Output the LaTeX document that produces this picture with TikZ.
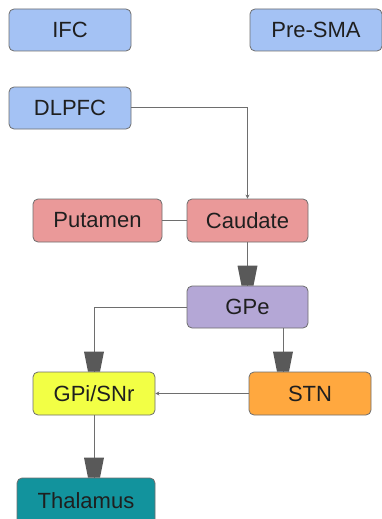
\documentclass[tikz,border=0pt]{standalone}
\usepackage{fontspec}
\setmainfont{Liberation Sans}
\usetikzlibrary{arrows.meta}
\definecolor{cortexblue}{HTML}{A4C2F4}
\definecolor{striatumred}{HTML}{EA9999}
\definecolor{gpepurple}{HTML}{B4A7D6}
\definecolor{gpiyellow}{HTML}{F2FF45}
\definecolor{stnorange}{HTML}{FFA83F}
\definecolor{thalteal}{HTML}{12939D}
\definecolor{edgegray}{HTML}{6E6E6E}
\definecolor{headgray}{HTML}{595959}
\tikzset{
  x=1pt, y=1pt,
  region/.style={draw=edgegray, line width=0.8pt, rounded corners=5pt,
    minimum height=42pt, inner sep=0pt, text=black!88,
    font=\fontsize{22}{24}\selectfont},
  link/.style={draw=edgegray, line width=0.8pt},
  thinarrow/.style={link, -{Stealth[length=4pt,width=4pt]}},
  trap/.pic={\fill[headgray] (-10,20) -- (10,20) -- (6,0) -- (-6,0) -- cycle;}
}
\begin{document}
\begin{tikzpicture}
\useasboundingbox (0,0) rectangle (382,-519);
\begin{scope}
\clip (0,0) rectangle (382,-519);
% cortical areas
\node[region, fill=cortexblue, minimum width=122pt] (ifc) at (70,-30) {IFC};
\node[region, fill=cortexblue, minimum width=132pt] (presma) at (316,-30) {Pre-SMA};
\node[region, fill=cortexblue, minimum width=122pt] (dlpfc) at (70,-108) {DLPFC};
% striatum
\node[region, fill=striatumred, minimum width=129pt, minimum height=43pt] (putamen) at (97.5,-220.5) {Putamen};
\node[region, fill=striatumred, minimum width=121pt, minimum height=43pt] (caudate) at (247.5,-220.5) {Caudate};
% pallidum, STN, thalamus
\node[region, fill=gpepurple, minimum width=121pt] (gpe) at (247.5,-307) {GPe};
\node[region, fill=gpiyellow, minimum width=122pt, minimum height=43pt] (gpi) at (94,-393.5) {GPi/SNr};
\node[region, fill=stnorange, minimum width=122pt, minimum height=43pt] (stn) at (310,-393.5) {STN};
\node[region, fill=thalteal, minimum width=138pt, minimum height=46pt] (thal) at (86,-501) {Thalamus};

% connections
\draw[thinarrow] (dlpfc.east |- 0,-107) -| (caudate.north);
\draw[link] (putamen.east) -- (caudate.west);
\draw[link] (caudate.south) -- (gpe.north);
\pic at (gpe.north) {trap};
\draw[link] (gpe.west) -| (gpi.north);
\pic at (gpi.north) {trap};
\draw[link] (283,0 |- gpe.south) -- (283,0 |- stn.north);
\pic at (283,0 |- stn.north) {trap};
\draw[thinarrow] (stn.west) -- (gpi.east);
\draw[link] (gpi.south) -- (gpi.south |- thal.north);
\pic at (gpi.south |- thal.north) {trap};
\end{scope}
\end{tikzpicture}
\end{document}
